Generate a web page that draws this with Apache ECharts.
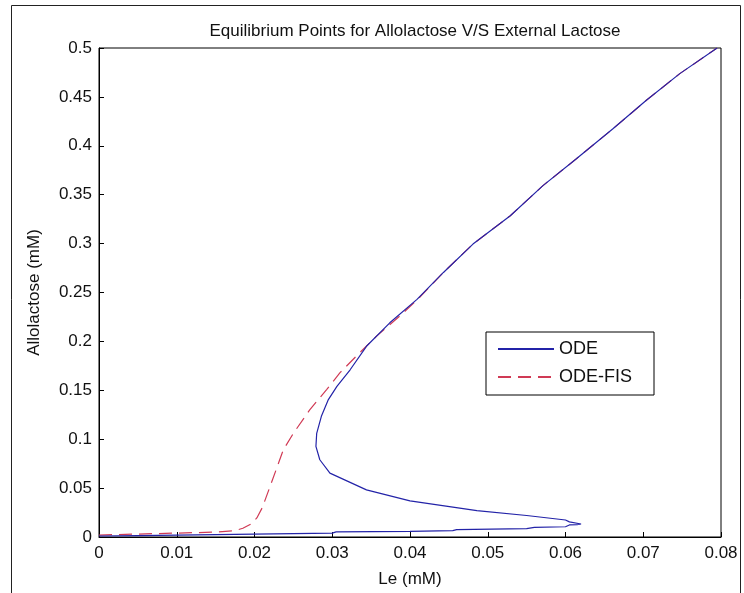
<!DOCTYPE html>
<html>
<head>
<meta charset="utf-8">
<script src="https://cdn.jsdelivr.net/npm/echarts@6/dist/echarts.min.js"></script>
<style>
html,body{margin:0;padding:0;background:#fff;}
#chart{width:744px;height:593px;}
</style>
</head>
<body>
<div id="chart"></div>
<script>
// ---- data ----
const titleText = 'Equilibrium Points for Allolactose V/S External Lactose';
const xAxisName = 'Le (mM)';
const yAxisName = 'Allolactose (mM)';
const seriesNames = ['ODE', 'ODE-FIS'];
const xTickLabels = ['0', '0.01', '0.02', '0.03', '0.04', '0.05', '0.06', '0.07', '0.08'];
const yTickLabels = ['0', '0.05', '0.1', '0.15', '0.2', '0.25', '0.3', '0.35', '0.4', '0.45', '0.5'];

// ODE curve (Le, Allolactose) in drawing order
const odeLe = [0, 0.005, 0.01, 0.02, 0.03, 0.0305, 0.04, 0.0455, 0.046, 0.055, 0.056, 0.06, 0.0605, 0.0615, 0.062,
  0.0605, 0.06, 0.0598, 0.055, 0.0486, 0.04, 0.0344, 0.0297, 0.0284, 0.0279, 0.028, 0.0286, 0.0295, 0.0306, 0.0323,
  0.0344, 0.0374, 0.0409, 0.0443, 0.0481, 0.0529, 0.0571, 0.0614, 0.0661, 0.0704, 0.0747, 0.0795];
const odeA = [0.001, 0.0015, 0.002, 0.003, 0.004, 0.0052, 0.0058, 0.0065, 0.0075, 0.0085, 0.0098, 0.0105, 0.0123, 0.0125, 0.0133,
  0.0155, 0.0174, 0.019, 0.022, 0.027, 0.0369, 0.0482, 0.0653, 0.079, 0.0926, 0.106, 0.1234, 0.1405, 0.154, 0.171,
  0.195, 0.219, 0.243, 0.2705, 0.2995, 0.3285, 0.3593, 0.3867, 0.4174, 0.4465, 0.4738, 0.5];

// ODE-FIS curve
const fisLe = [0, 0.005, 0.01, 0.015, 0.0175, 0.0185, 0.0195, 0.0203, 0.021, 0.022, 0.0237, 0.025, 0.0271, 0.0293, 0.031,
  0.0331, 0.0357, 0.0387, 0.041, 0.0443, 0.0481, 0.0529, 0.0571, 0.0614, 0.0661, 0.0704, 0.0747, 0.0795];
const fisA = [0.002, 0.003, 0.004, 0.005, 0.0065, 0.0089, 0.013, 0.0195, 0.03, 0.0516, 0.089, 0.106, 0.130, 0.151, 0.168,
  0.185, 0.2054, 0.226, 0.243, 0.2705, 0.2995, 0.3285, 0.3593, 0.3867, 0.4174, 0.4465, 0.4738, 0.5];

const zip = (a, b) => a.map((v, i) => [v, b[i]]);

const chart = echarts.init(document.getElementById('chart'), null, {renderer: 'canvas'});
const font = 'Liberation Sans, Arial, Helvetica, sans-serif';
chart.setOption({
  backgroundColor: '#fff',
  animation: false,
  title: {
    text: titleText,
    left: 410, top: 18, textAlign: 'center',
    textStyle: {fontFamily: font, fontSize: 17, fontWeight: 'normal', color: '#111'}
  },
  graphic: [{
    type: 'rect', silent: true, z: -1,
    shape: {x: 11.5, y: 5.5, width: 729, height: 600},
    style: {fill: 'none', stroke: '#222', lineWidth: 1}
  }],
  grid: {left: 99, right: 23, top: 48, bottom: 56, show: true, borderColor: '#000', borderWidth: 1, backgroundColor: '#fff'},
  legend: {
    data: seriesNames,
    orient: 'vertical',
    left: 486, top: 332,
    padding: [8, 22, 9, 11],
    itemWidth: 56, itemHeight: 14, itemGap: 10,
    itemStyle: {opacity: 0, borderWidth: 0},
    borderColor: '#000', borderWidth: 1, backgroundColor: '#fff',
    textStyle: {fontFamily: font, fontSize: 18, color: '#111'}
  },
  xAxis: {
    type: 'value', min: 0, max: 0.08, interval: 0.01,
    name: xAxisName, nameLocation: 'middle', nameGap: 34,
    nameTextStyle: {fontFamily: font, fontSize: 17, color: '#111'},
    axisLine: {show: true, onZero: false, lineStyle: {color: '#000', width: 1}},
    axisTick: {show: true, inside: true, length: 5, lineStyle: {color: '#000'}},
    axisLabel: {margin: 8, fontFamily: font, fontSize: 17, color: '#111',
      formatter: (v, i) => xTickLabels[Math.round(v / 0.01)]},
    splitLine: {show: false}
  },
  yAxis: {
    type: 'value', min: 0, max: 0.5, interval: 0.05,
    name: yAxisName, nameLocation: 'middle', nameGap: 56, nameRotate: 90,
    nameTextStyle: {fontFamily: font, fontSize: 17, color: '#111'},
    axisLine: {show: true, onZero: false, lineStyle: {color: '#000', width: 1}},
    axisTick: {show: true, inside: true, length: 5, lineStyle: {color: '#000'}},
    axisLabel: {margin: 7, fontFamily: font, fontSize: 17, color: '#111',
      formatter: (v, i) => yTickLabels[Math.round(v / 0.05)]},
    splitLine: {show: false}
  },
  series: [
    {
      name: seriesNames[0], type: 'line', data: zip(odeLe, odeA),
      symbol: 'none', smooth: false, z: 3,
      lineStyle: {color: '#2323a8', width: 1.2},
      itemStyle: {color: '#2323a8'}
    },
    {
      name: seriesNames[1], type: 'line', data: zip(fisLe, fisA),
      symbol: 'none', smooth: false, z: 2,
      lineStyle: {color: '#d03a55', width: 1.2, type: [13, 7]},
      itemStyle: {color: '#d03a55'}
    }
  ]
});
</script>
</body>
</html>
